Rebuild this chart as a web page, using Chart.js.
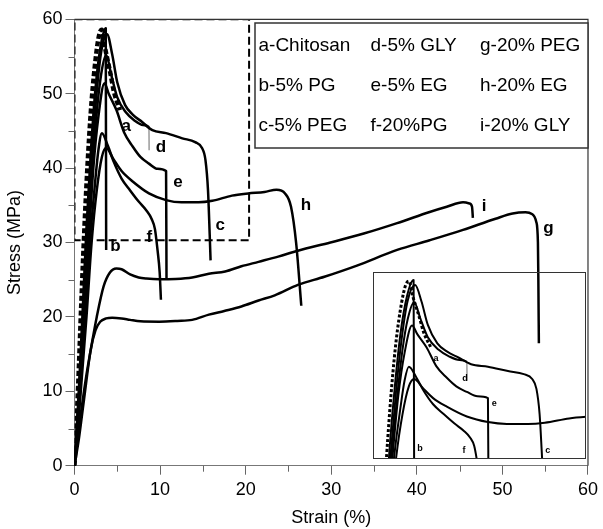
<!DOCTYPE html>
<html><head><meta charset="utf-8">
<script src="https://cdn.jsdelivr.net/npm/chart.js@4.4.1/dist/chart.umd.min.js"></script>
<style>
html,body{margin:0;padding:0;background:#fff;}
#wrap{position:relative;width:603px;height:529px;overflow:hidden;}
#main{position:absolute;left:0;top:0;}
#inset{position:absolute;left:373px;top:272px;}
</style></head><body>
<div id="wrap"><canvas id="main" width="603" height="529"></canvas><canvas id="inset" width="213" height="187"></canvas></div>
<script>
// ---------- DATA ----------
const strainTicks = [0, 10, 20, 30, 40, 50, 60];
const strainMinorTicks = [5, 15, 25, 35, 45, 55];
const stressTicks = [0, 10, 20, 30, 40, 50, 60];
const stressMinorTicks = [5, 15, 25, 35, 45, 55];

const curveLetters = ['a','b','c','d','e','f','g','h','i'];
const legendNames = ['a-Chitosan','b-5% PG','c-5% PEG','d-5% GLY','e-5% EG','f-20%PG','g-20% PEG','h-20% EG','i-20% GLY'];

// [strain %, stress MPa]
const curveA = [[0,0],[0.4,10],[0.8,22],[1.2,33],[1.6,42],[2.0,49],[2.5,55],[2.9,58],[3.2,58.6],[3.6,56],[4.2,52.7],[4.6,50.3],[5.3,47.8]];
const curveB = [[0,0],[0.5,10],[1.0,22],[1.4,32],[1.9,42],[2.4,50],[3.0,56],[3.65,58.8],[3.7,29]];
const curveC = [[0,0],[0.5,9],[1.1,22],[1.5,31],[2.0,41],[2.5,49],[3.1,55.5],[3.8,58],[4.4,55.3],[5.0,51.5],[5.9,48.5],[6.8,47.2],[7.9,46.2],[9.1,45.1],[10.7,44.7],[12.6,44.0],[14.1,43.5],[14.9,42.7],[15.3,41.1],[15.6,37],[15.8,31],[15.9,27.6]];
const curveD = [[0,0],[0.5,9],[1.1,21],[1.6,31],[2.1,40],[2.6,47.5],[3.1,52.5],[3.7,55.2],[4.3,52.5],[5.0,49.5],[6.0,47.5],[7.0,46.4],[8.0,45.8],[8.7,45.5],[8.72,42.4]];
const curveE = [[0,0],[0.5,8],[1.2,21],[1.7,31],[2.2,40],[2.8,47],[3.5,51.4],[4.0,50],[4.9,47.8],[5.8,44.8],[6.8,42.9],[7.7,41.5],[8.7,40.6],[9.7,39.9],[10.7,39.6],[10.75,25.2]];
const curveF = [[0,0],[0.6,9],[1.3,21],[1.8,30],[2.4,38],[2.8,42.5],[3.2,44.7],[3.9,43],[4.6,40.8],[5.5,38.6],[6.5,37],[7.5,35.5],[8.4,34.3],[9.0,33.2],[9.4,31.8],[9.7,29],[9.95,26],[10.1,22.3]];
const curveG = [[0,0],[0.5,3.5],[1.1,8.8],[1.9,15.6],[2.45,18.2],[3.0,19.35],[3.7,19.8],[4.4,19.9],[5.5,19.8],[6.5,19.6],[7.7,19.4],[9.9,19.35],[12,19.45],[13.75,19.6],[15.7,20.3],[17.5,20.8],[19.5,21.4],[21.5,22.2],[23.4,22.9],[26.1,24.3],[29.2,25.4],[33.0,26.9],[37.7,29.0],[41.5,30.3],[45.4,31.7],[49.2,33.2],[51.2,33.9],[52.7,34.05],[53.5,33.8],[53.95,32.8],[54.15,30],[54.2,25],[54.26,16.45]];
const curveH = [[0,0],[0.6,8],[1.4,20],[2.0,30],[2.6,37],[3.2,41.5],[3.7,42.7],[4.5,41.3],[5.5,39.6],[6.8,38.2],[8.7,36.6],[10.7,35.7],[12.5,35.4],[14.5,35.4],[16.1,35.6],[18.4,36.3],[20.3,36.6],[22.2,36.8],[23.6,37.1],[24.6,36.6],[25.3,34.8],[25.9,29.9],[26.5,21.5]];
const curveI = [[0,0],[0.7,6.6],[1.3,11.5],[1.9,15.6],[2.6,20],[3.4,24.1],[4.1,25.9],[4.9,26.5],[5.5,26.4],[6.5,25.7],[7.5,25.3],[8.4,25.15],[9.9,25.05],[11.8,25.1],[13.75,25.3],[15.7,25.8],[17.6,26.1],[19.5,26.8],[21.5,27.4],[23.8,28.1],[26.1,28.9],[29.9,30.0],[33.8,31.2],[37.7,32.6],[41.5,34.1],[43.5,34.8],[45.4,35.4],[46.15,35.25],[46.45,34.8],[46.55,33.3]];

// zoom window (dashed box) in data units
const zoomStrain = [0, 20.4];
const zoomStress = [30.3, 60];

// curve letter positions (data units) for main plot
const mainLabelStrain = [6.04, 4.77, 17.04, 10.09, 12.1, 8.74, 55.38, 27.03, 47.86];
const mainLabelStress = [45.56, 29.5, 32.35, 42.8, 38.1, 30.7, 31.95, 35.04, 34.81];
// inset letters (a,b,c,d,e,f)
const insetLabelLetters = ['a','d','e','b','f','c'];
const insetLabelStrain = [5.78, 8.53, 11.31, 4.26, 8.43, 16.38];
const insetLabelStress = [46.07, 42.8, 38.75, 31.4, 31.16, 31.16];
// inset axis range
const insetStrainRange = [-0.2, 20];
const insetStressRange = [29.7, 60.1];

// ---------- CHART ----------
const FONT = '"Liberation Sans", Arial, Helvetica, sans-serif';
const toXY = arr => arr.map(p => ({x: p[0], y: p[1]}));

function makeDatasets(scale) {
  const w = scale ? 2 : 2.5;
  const base = (data, extra) => Object.assign({
    data: toXY(data), borderColor: '#000', borderWidth: w, pointRadius: 0,
    fill: false, cubicInterpolationMode: 'monotone', borderJoinStyle: 'round', borderCapStyle: 'butt'
  }, extra || {});
  const nD = curveD.length;
  return [
    base(curveB),
    base(curveC),
    base(curveD, {segment: {
      borderColor: c => c.p1DataIndex === nD - 1 ? '#9a9a9a' : '#000',
      borderWidth: c => c.p1DataIndex === nD - 1 ? 1.5 : w
    }}),
    base(curveE),
    base(curveF),
    base(curveH),
    base(curveA, {borderWidth: scale ? 3 : 4.5, borderDash: scale ? [3, 2] : [5, 2.5]})
  ];
}

const mainDecor = {
  id: 'mainDecor',
  afterDraw(chart) {
    const {ctx, chartArea: ca, scales: {x, y}} = chart;
    ctx.save();
    // minor ticks
    ctx.strokeStyle = '#666'; ctx.lineWidth = 1;
    strainMinorTicks.forEach(v => {
      const px = Math.round(x.getPixelForValue(v)) + 0.5;
      ctx.beginPath(); ctx.moveTo(px, ca.bottom); ctx.lineTo(px, ca.bottom + 6); ctx.stroke();
    });
    stressMinorTicks.forEach(v => {
      const py = Math.round(y.getPixelForValue(v)) + 0.5;
      ctx.beginPath(); ctx.moveTo(ca.left, py); ctx.lineTo(ca.left - 6, py); ctx.stroke();
    });
    // frame top/right
    ctx.strokeStyle = '#333'; ctx.lineWidth = 1.2;
    ctx.beginPath();
    ctx.moveTo(ca.left, ca.top); ctx.lineTo(ca.right, ca.top); ctx.lineTo(ca.right, ca.bottom);
    ctx.stroke();
    // curve letters
    ctx.fillStyle = '#000';
    ctx.font = 'bold 17px ' + FONT;
    ctx.textAlign = 'center'; ctx.textBaseline = 'middle';
    curveLetters.forEach((l, i) => {
      ctx.fillText(l, x.getPixelForValue(mainLabelStrain[i]), y.getPixelForValue(mainLabelStress[i]));
    });
    // legend box
    const bx = 255, by = 23, bw = 333, bh = 125;
    ctx.fillStyle = '#fff';
    ctx.fillRect(bx, by, bw, bh);
    ctx.strokeStyle = '#333'; ctx.lineWidth = 1.5;
    ctx.strokeRect(bx, by, bw, bh);
    ctx.fillStyle = '#000';
    ctx.font = '19px ' + FONT;
    ctx.textAlign = 'left'; ctx.textBaseline = 'middle';
    const colX = [258.5, 370.5, 480];
    const rowY = [46, 86, 126];
    legendNames.forEach((t, i) => {
      ctx.fillText(t, colX[Math.floor(i / 3)], rowY[i % 3]);
    });
    ctx.restore();
  }
};

const mainDatasets = makeDatasets(false);
mainDatasets.push({
  data: toXY(curveI), borderColor: '#000', borderWidth: 2.5, pointRadius: 0, fill: false, cubicInterpolationMode: 'monotone'
});
mainDatasets.push({
  data: toXY(curveG), borderColor: '#000', borderWidth: 2.5, pointRadius: 0, fill: false, cubicInterpolationMode: 'monotone'
});
mainDatasets.push({
  data: toXY([[zoomStrain[0], zoomStress[1]], [zoomStrain[1], zoomStress[1]], [zoomStrain[1], zoomStress[0]], [zoomStrain[0], zoomStress[0]], [zoomStrain[0], zoomStress[1]]]),
  borderColor: '#000', borderWidth: 2, borderDash: [8, 4], pointRadius: 0, fill: false, tension: 0
});

new Chart(document.getElementById('main'), {
  type: 'line',
  data: {datasets: mainDatasets},
  options: {
    responsive: false, animation: false, devicePixelRatio: 1,
    layout: {padding: {top: 19.3, right: 11, left: 0, bottom: 0}},
    plugins: {legend: {display: false}, tooltip: {enabled: false}},
    scales: {
      x: {
        type: 'linear', min: 0, max: 60,
        afterFit: s => { s.height = 63.3; },
        afterBuildTicks: s => { s.ticks = strainTicks.map(v => ({value: v})); },
        ticks: {font: {family: FONT, size: 18}, color: '#000', padding: 5, maxRotation: 0, autoSkip: false},
        grid: {drawOnChartArea: false, tickLength: 9, color: '#666'},
        border: {color: '#777', width: 1},
        title: {display: true, text: 'Strain (%)', font: {family: FONT, size: 18}, color: '#000', padding: {top: 0, bottom: 0}}
      },
      y: {
        type: 'linear', min: 0, max: 60,
        afterFit: s => { s.width = 74.5; },
        afterBuildTicks: s => { s.ticks = stressTicks.map(v => ({value: v})); },
        ticks: {font: {family: FONT, size: 18}, color: '#000', padding: 3, autoSkip: false},
        grid: {drawOnChartArea: false, tickLength: 9, color: '#666'},
        border: {color: '#777', width: 1},
        title: {display: true, text: 'Stress (MPa)', font: {family: FONT, size: 18}, color: '#000', padding: {top: 4, bottom: 0}}
      }
    }
  },
  plugins: [mainDecor]
});

const insetDecor = {
  id: 'insetDecor',
  afterDraw(chart) {
    const {ctx, chartArea: ca, scales: {x, y}} = chart;
    ctx.save();
    ctx.strokeStyle = '#333'; ctx.lineWidth = 1;
    ctx.strokeRect(ca.left + 0.5, ca.top + 0.5, ca.width - 1, ca.height - 1);
    ctx.fillStyle = '#000';
    ctx.font = 'bold 9px ' + FONT;
    ctx.textAlign = 'center'; ctx.textBaseline = 'middle';
    insetLabelLetters.forEach((l, i) => {
      ctx.fillText(l, x.getPixelForValue(insetLabelStrain[i]), y.getPixelForValue(insetLabelStress[i]));
    });
    ctx.restore();
  }
};

new Chart(document.getElementById('inset'), {
  type: 'line',
  data: {datasets: makeDatasets(true)},
  options: {
    responsive: false, animation: false, devicePixelRatio: 1,
    layout: {padding: 0},
    plugins: {legend: {display: false}, tooltip: {enabled: false}},
    scales: {
      x: {type: 'linear', display: false, min: insetStrainRange[0], max: insetStrainRange[1]},
      y: {type: 'linear', display: false, min: insetStressRange[0], max: insetStressRange[1]}
    }
  },
  plugins: [insetDecor]
});
</script>
</body></html>
